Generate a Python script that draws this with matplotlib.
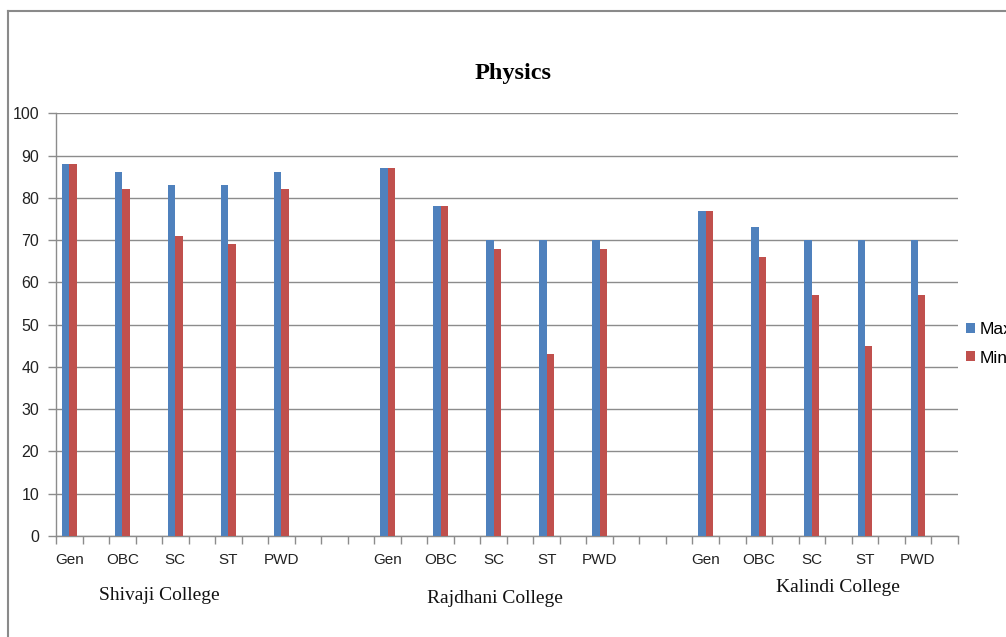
import matplotlib.pyplot as plt
import numpy as np
from matplotlib.lines import Line2D

colleges = ['Shivaji College', 'Rajdhani College', 'Kalindi College']
categories = ['Gen', 'OBC', 'SC', 'ST', 'PWD']
max_marks = [88, 86, 83, 83, 86, 87, 78, 70, 70, 70, 77, 73, 70, 70, 70]
min_marks = [88, 82, 71, 69, 82, 87, 78, 68, 43, 68, 77, 66, 57, 45, 57]

blue = '#4F81BD'
red = '#C0504D'
grey = '#8C8C8C'

# sheet had a blank row after every category and 2 more between colleges -> 34 slots
n_slots = 34
x = np.array([g * 12 + c * 2 + 0.5 for g in range(len(colleges)) for c in range(len(categories))])
labels = categories * len(colleges)
w = 0.277

fig = plt.figure(figsize=(10.06, 6.37), dpi=100)
ax = fig.add_axes([56 / 1006, 1 - 536 / 637, (957.7 - 56) / 1006, (536 - 113.3) / 637])

ax.bar(x - w / 2, max_marks, w, color=blue, label='Max', zorder=3)
ax.bar(x + w / 2, min_marks, w, color=red, label='Min', zorder=3)

ax.set_xlim(0, n_slots)
ax.set_ylim(0, 100)
ax.set_yticks(range(0, 101, 10))
ax.yaxis.grid(True, color=grey, lw=1, zorder=0)

ax.set_xticks(x)
ax.set_xticklabels(labels, fontsize=11, family='Liberation Sans', color='#222222')
ax.set_xticks(np.arange(0, n_slots + 1), minor=True)
ax.tick_params(axis='x', which='major', length=0, pad=12.5)
ax.tick_params(axis='x', which='minor', length=6, color=grey, width=1)
ax.tick_params(axis='y', length=6, color=grey, width=1, labelsize=11.5, labelcolor='#222222', pad=6)
for t in ax.get_yticklabels():
    t.set_family('Liberation Sans')

for s in ['top', 'right']:
    ax.spines[s].set_visible(False)
for s in ['left', 'bottom']:
    ax.spines[s].set_color(grey)
    ax.spines[s].set_linewidth(1)

# college names under each group (not evenly placed in the original)
name_x = [3.88, 16.55, 29.47]
name_y = [-0.141, -0.148, -0.122]
for name, nx, ny in zip(colleges, name_x, name_y):
    ax.text(nx, ny, name, transform=ax.get_xaxis_transform(), ha='center', va='center',
            fontsize=14, family='Liberation Serif', color='#111111')

fig.text(513 / 1006, 1 - 73 / 637, 'Physics', ha='center', va='center',
         fontsize=17.5, fontweight='bold', family='Liberation Serif')

# legend runs off the right edge in the original too
ax.legend(loc='center left', bbox_to_anchor=(966 / 1006, 1 - 344 / 637), bbox_transform=fig.transFigure,
          frameon=False, prop={'family': 'Liberation Sans', 'size': 12.5}, handlelength=0.5,
          handleheight=0.5, handletextpad=0.3, labelspacing=0.75, borderpad=0, borderaxespad=0)

# chart area border (only top and left visible in the crop)
fig.add_artist(Line2D([8 / 1006, 8 / 1006], [0, 1 - 10.5 / 637], transform=fig.transFigure, color='#8A8A8A', lw=1.5))
fig.add_artist(Line2D([8 / 1006, 1], [1 - 10.5 / 637, 1 - 10.5 / 637], transform=fig.transFigure, color='#8A8A8A', lw=1.5))

fig.savefig('out.png', dpi=100)
